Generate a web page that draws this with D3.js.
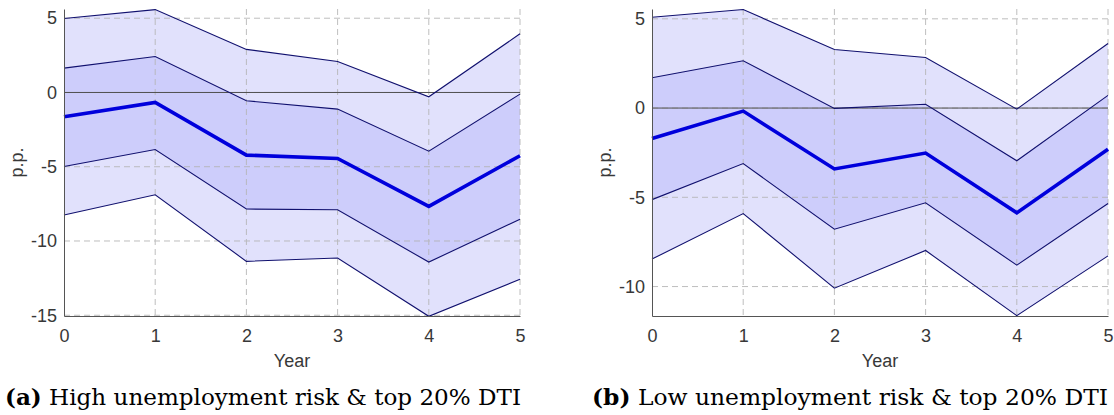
<!DOCTYPE html>
<html>
<head>
<meta charset="utf-8">
<script src="https://cdn.jsdelivr.net/npm/d3@7"></script>
<style>
  body { margin: 0; background: #fff; }
  svg { display: block; }
</style>
</head>
<body>
<div id="chart"></div>
<script>
const years = [0, 1, 2, 3, 4, 5]

// panel (a): high unemployment risk
const meanA = [-1.64, -0.67, -4.22, -4.44, -7.67, -4.26]
const hi68A = [1.64, 2.42, -0.56, -1.12, -3.95, -0.11]
const lo68A = [-4.98, -3.84, -7.85, -7.9, -11.42, -8.53]
const hi90A = [4.98, 5.58, 2.9, 2.09, -0.29, 3.95]
const lo90A = [-8.25, -6.89, -11.37, -11.15, -15.07, -12.58]
const yTicksA = [5, 0, -5, -10, -15]

// panel (b): low unemployment risk
const meanB = [-1.7, -0.17, -3.41, -2.52, -5.87, -2.31]
const hi68B = [1.7, 2.65, -0.02, 0.21, -2.95, 0.71]
const lo68B = [-5.13, -3.11, -6.79, -5.31, -8.8, -5.35]
const hi90B = [5.09, 5.52, 3.28, 2.83, -0.06, 3.62]
const lo90B = [-8.46, -5.91, -10.09, -7.98, -11.63, -8.28]
const yTicksB = [5, 0, -5, -10]

const width = 1114
const height = 415
const sans = "'Liberation Sans', Arial, Helvetica, sans-serif"

const svg = d3.select("#chart").append("svg").attr("width", width).attr("height", height)

function drawPanel(opts) {
  const { left, right, top, bottom, ydom, mean, hi68, lo68, hi90, lo90, yTicks, tag, caption, capX } = opts

  const x = d3.scaleLinear().domain([0, 5]).range([left, right])
  const y = d3.scaleLinear().domain(ydom).range([bottom, top])

  const g = svg.append("g")

  const area = (hi, lo) => d3.area().x((d, i) => x(years[i])).y0((d, i) => y(lo[i])).y1((d, i) => y(hi[i]))

  // bands
  g.append("path").datum(years).attr("d", area(hi90, lo90)).attr("fill", "#e1e1fc")
  g.append("path").datum(years).attr("d", area(hi68, lo68)).attr("fill", "#cdcdfb")

  // grid
  const grid = g.append("g").attr("stroke", "#b4b4b4").attr("stroke-width", 1).attr("stroke-dasharray", "6,4").attr("opacity", 0.85)
  grid.selectAll(".vg").data(years.slice(1)).enter().append("line")
    .attr("x1", d => x(d)).attr("x2", d => x(d)).attr("y1", top).attr("y2", bottom)
  grid.selectAll(".hg").data(yTicks).enter().append("line")
    .attr("x1", left).attr("x2", right).attr("y1", d => y(d)).attr("y2", d => y(d))

  // zero line
  g.append("line").attr("x1", left).attr("x2", right).attr("y1", y(0)).attr("y2", y(0))
    .attr("stroke", "#505050").attr("stroke-width", 1)

  const line = arr => d3.line().x((d, i) => x(years[i])).y((d, i) => y(arr[i]))
  ;[hi90, lo90, hi68, lo68].forEach(arr => {
    g.append("path").datum(years).attr("d", line(arr)).attr("fill", "none")
      .attr("stroke", "#10106e").attr("stroke-width", 1.1)
  })
  g.append("path").datum(years).attr("d", line(mean)).attr("fill", "none")
    .attr("stroke", "#0000dc").attr("stroke-width", 3.6)

  // axes
  const xAxis = g.append("g").attr("transform", `translate(0,${bottom})`)
    .call(d3.axisBottom(x).tickValues(years).tickSize(0).tickPadding(13).tickFormat(d3.format("d")))
  const yAxis = g.append("g").attr("transform", `translate(${left},0)`)
    .call(d3.axisLeft(y).tickValues(yTicks).tickSize(0).tickPadding(7).tickFormat(d => String(d)))
  ;[xAxis, yAxis].forEach(a => {
    a.attr("font-family", null).attr("font-size", null)
    a.select(".domain").attr("stroke", "#555")
    a.selectAll("text").attr("fill", "#383838").style("font-family", sans).style("font-size", "18px")
  })

  g.append("text").attr("x", (left + right) / 2).attr("y", 367).attr("text-anchor", "middle")
    .style("font-family", sans).style("font-size", "18px").attr("fill", "#383838")
    .text("Year")
  g.append("text").attr("transform", `translate(${left - 41},${(top + bottom) / 2}) rotate(-90)`)
    .attr("text-anchor", "middle")
    .style("font-family", sans).style("font-size", "18px").attr("fill", "#383838")
    .text("p.p.")

  const cap = g.append("text").attr("x", capX).attr("y", 405)
    .attr("textLength", 516).attr("lengthAdjust", "spacingAndGlyphs")
    .style("font-family", "'DejaVu Serif', serif").style("font-size", "22.5px").attr("fill", "#000")
  cap.append("tspan").style("font-weight", "bold").text(tag)
  cap.append("tspan").text(" " + caption)
}

drawPanel({ left: 64, right: 520, top: 9, bottom: 316, ydom: [-15.05, 5.62],
  mean: meanA, hi68: hi68A, lo68: lo68A, hi90: hi90A, lo90: lo90A, yTicks: yTicksA,
  tag: "(a)", caption: "High unemployment risk & top 20% DTI", capX: 5 })

drawPanel({ left: 652, right: 1108, top: 9, bottom: 316, ydom: [-11.65, 5.55],
  mean: meanB, hi68: hi68B, lo68: lo68B, hi90: hi90B, lo90: lo90B, yTicks: yTicksB,
  tag: "(b)", caption: "Low unemployment risk & top 20% DTI", capX: 592 })
</script>
</body>
</html>
